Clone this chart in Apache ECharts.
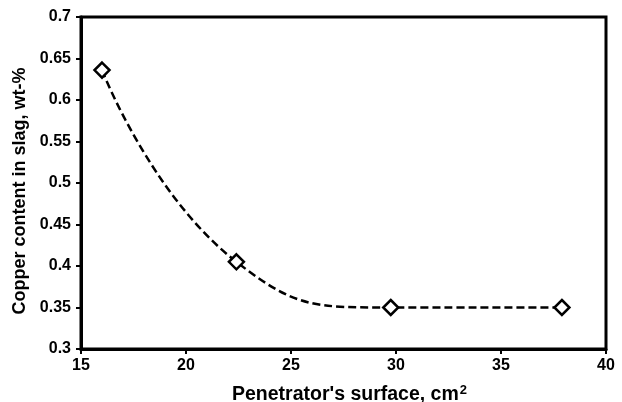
<!DOCTYPE html>
<html>
<head>
<meta charset="utf-8">
<script src="https://cdn.jsdelivr.net/npm/echarts@6/dist/echarts.min.js"></script>
<style>
html, body { margin: 0; padding: 0; background: #fff; }
#chart { width: 622px; height: 402px; }
</style>
</head>
<body>
<div id="chart"></div>
<script>
// Penetrator surface area (cm²) and copper remaining in slag (wt-%)
const surfaceArea = [16.0, 22.4, 29.75, 37.9];
const copperContent = [0.636, 0.405, 0.35, 0.35];

const xTitle = "Penetrator's surface, cm";
const yTitle = 'Copper content in slag, wt-%';

const font = 'Liberation Sans, Arial, sans-serif';

const chart = echarts.init(document.getElementById('chart'), null, { renderer: 'canvas' });

chart.setOption({
  animation: false,
  backgroundColor: '#fff',
  grid: { left: 81, right: 16, top: 17, bottom: 53, containLabel: false,
          outerBoundsMode: 'none',
          show: true, borderColor: '#000', borderWidth: 3 },
  xAxis: {
    type: 'value', min: 15, max: 40, interval: 5,
    axisLine: { show: true, onZero: false, lineStyle: { color: '#000', width: 3 } },
    axisTick: { show: true, inside: false, length: 5, lineStyle: { color: '#000', width: 2 } },
    splitLine: { show: false },
    axisLabel: { color: '#000', fontFamily: font, fontWeight: 'bold', fontSize: 16, margin: 9 },
    name: '{t|' + xTitle + '}{s|2}',
    nameLocation: 'middle', nameGap: 35,
    nameTextStyle: {
      padding: [0, 0, 0, 12],
      rich: {
        t: { color: '#000', fontFamily: font, fontWeight: 'bold', fontSize: 19.5, lineHeight: 22 },
        s: { color: '#000', fontFamily: font, fontWeight: 'bold', fontSize: 13, lineHeight: 22, verticalAlign: 'top', padding: [0, 0, 0, 1] }
      }
    }
  },
  yAxis: {
    type: 'value', min: 0.3, max: 0.7, interval: 0.05,
    axisLine: { show: true, onZero: false, lineStyle: { color: '#000', width: 3 } },
    axisTick: { show: true, inside: false, length: 5, lineStyle: { color: '#000', width: 2 } },
    splitLine: { show: false },
    axisLabel: { color: '#000', fontFamily: font, fontWeight: 'bold', fontSize: 16, margin: 10,
                 formatter: v => String(+v.toFixed(2)) },
    name: yTitle,
    nameLocation: 'middle', nameGap: 50,
    nameTextStyle: { color: '#000', fontFamily: font, fontWeight: 'bold', fontSize: 18,
                     padding: [0, 16, 0, 0] }
  },
  series: [{
    type: 'line',
    data: surfaceArea.map((x, i) => [x, copperContent[i]]),
    smooth: 0.5,
    smoothMonotone: 'none',
    symbol: 'diamond',
    symbolSize: [15, 15],
    itemStyle: { color: '#fff', borderColor: '#000', borderWidth: 2.5 },
    lineStyle: { color: '#000', width: 2.5, type: [8, 4] },
    z: 3
  }]
});
</script>
</body>
</html>
